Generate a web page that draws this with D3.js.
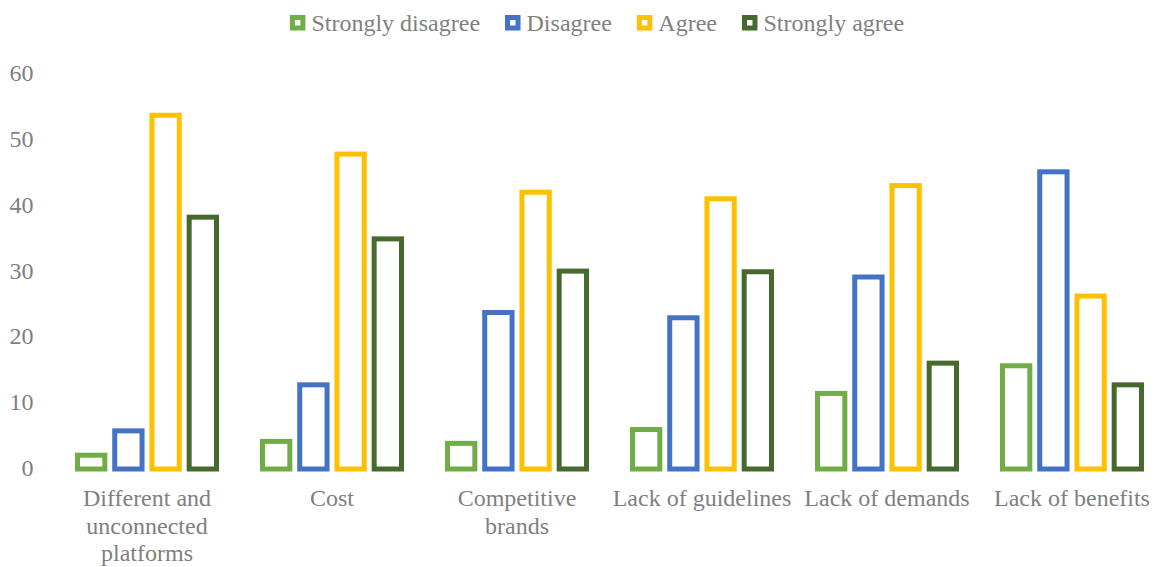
<!DOCTYPE html>
<html>
<head>
<meta charset="utf-8">
<script src="https://cdn.jsdelivr.net/npm/d3@7"></script>
<style>
  html, body { margin: 0; padding: 0; background: #ffffff; }
  svg { display: block; }
  text { font-family: "Liberation Serif", "Times New Roman", serif; fill: #7f7f7f; }
</style>
</head>
<body>
<svg id="chart" width="1154" height="567"></svg>
<script>
// ---- data ----
const categories = ["Different and\nunconnected\nplatforms", "Cost", "Competitive\nbrands",
                    "Lack of guidelines", "Lack of demands", "Lack of benefits"];
const seriesNames = ["Strongly disagree", "Disagree", "Agree", "Strongly agree"];
const stronglyDisagree = [2.1, 4.2, 3.9, 6.0, 11.5, 15.7];
const disagree        = [5.8, 12.8, 23.8, 23.0, 29.2, 45.2];
const agree           = [53.8, 47.9, 42.1, 41.1, 43.1, 26.3];
const stronglyAgree   = [38.3, 35.0, 30.1, 30.0, 16.1, 12.8];
const yTicks = [0, 10, 20, 30, 40, 50, 60];
const colors = ["#70ad47", "#4472c4", "#ffc000", "#466a2e"];

const seriesValues = [stronglyDisagree, disagree, agree, stronglyAgree];

const svg = d3.select("#chart");
const fontSize = 24;

// ---- scales ----
const x0 = d3.scaleBand().domain(categories).range([54.5, 1164.5]).padding(0);
const x1 = d3.scaleBand().domain(seriesNames).range([23, 162]).paddingInner(0.266).paddingOuter(0);
const y = d3.scaleLinear().domain([0, 60]).range([469, 74.5]);

// ---- y axis ----
const yAxis = d3.axisLeft(y).tickValues(yTicks).tickSize(0).tickPadding(0).tickFormat(d3.format("d"));
const gy = svg.append("g").attr("transform", "translate(33.5,0)").call(yAxis);
gy.select(".domain").remove();
gy.selectAll("text")
  .attr("font-family", "Liberation Serif, Times New Roman, serif")
  .attr("font-size", fontSize)
  .attr("fill", "#7f7f7f")
  .attr("x", 0)
  .attr("dy", "0.26em");

// ---- bars ----
const groups = svg.append("g").selectAll("g")
  .data(categories)
  .join("g")
  .attr("transform", d => `translate(${x0(d)},0)`);

groups.selectAll("rect")
  .data((c, ci) => seriesNames.map((s, si) => ({ s, si, v: seriesValues[si][ci] })))
  .join("rect")
  .attr("x", d => x1(d.s))
  .attr("width", x1.bandwidth())
  .attr("y", d => y(d.v))
  .attr("height", d => y(0) - y(d.v))
  .attr("fill", "#ffffff")
  .attr("stroke", d => colors[d.si])
  .attr("stroke-width", 5);

// ---- x axis labels ----
const xAxis = d3.axisBottom(x0).tickSize(0).tickPadding(0).tickFormat(() => "");
const gx = svg.append("g").attr("transform", "translate(0,0)").call(xAxis);
gx.select(".domain").remove();
gx.selectAll(".tick").each(function(d) {
  const t = d3.select(this).select("text")
    .attr("font-family", "Liberation Serif, Times New Roman, serif")
    .attr("font-size", fontSize)
    .attr("fill", "#7f7f7f")
    .attr("text-anchor", "middle")
    .attr("y", 0)
    .attr("dy", null);
  t.text(null);
  d.split("\n").forEach((line, i) => {
    t.append("tspan").attr("x", 0).attr("y", 506 + i * 27.5).text(line);
  });
});

// ---- legend ----
const legend = svg.append("g");
const items = legend.selectAll("g").data(seriesNames).join("g");
items.append("rect")
  .attr("width", 10.5).attr("height", 10.5)
  .attr("fill", "#ffffff")
  .attr("stroke", (d, i) => colors[i])
  .attr("stroke-width", 5);
items.append("text")
  .attr("font-size", fontSize)
  .attr("x", 21.5)
  .attr("y", 31)
  .text(d => d);

const widths = [];
items.each(function() { widths.push(this.querySelector("text").getComputedTextLength()); });
const itemW = widths.map(w => 19.5 + w);
const gap = 27;
const total = d3.sum(itemW) + gap * (itemW.length - 1);
let cx = 596 - total / 2;
items.each(function(d, i) {
  d3.select(this).select("rect").attr("x", 2.5).attr("y", 17.5);
  d3.select(this).attr("transform", `translate(${cx},0)`);
  cx += itemW[i] + gap;
});
</script>
</body>
</html>
